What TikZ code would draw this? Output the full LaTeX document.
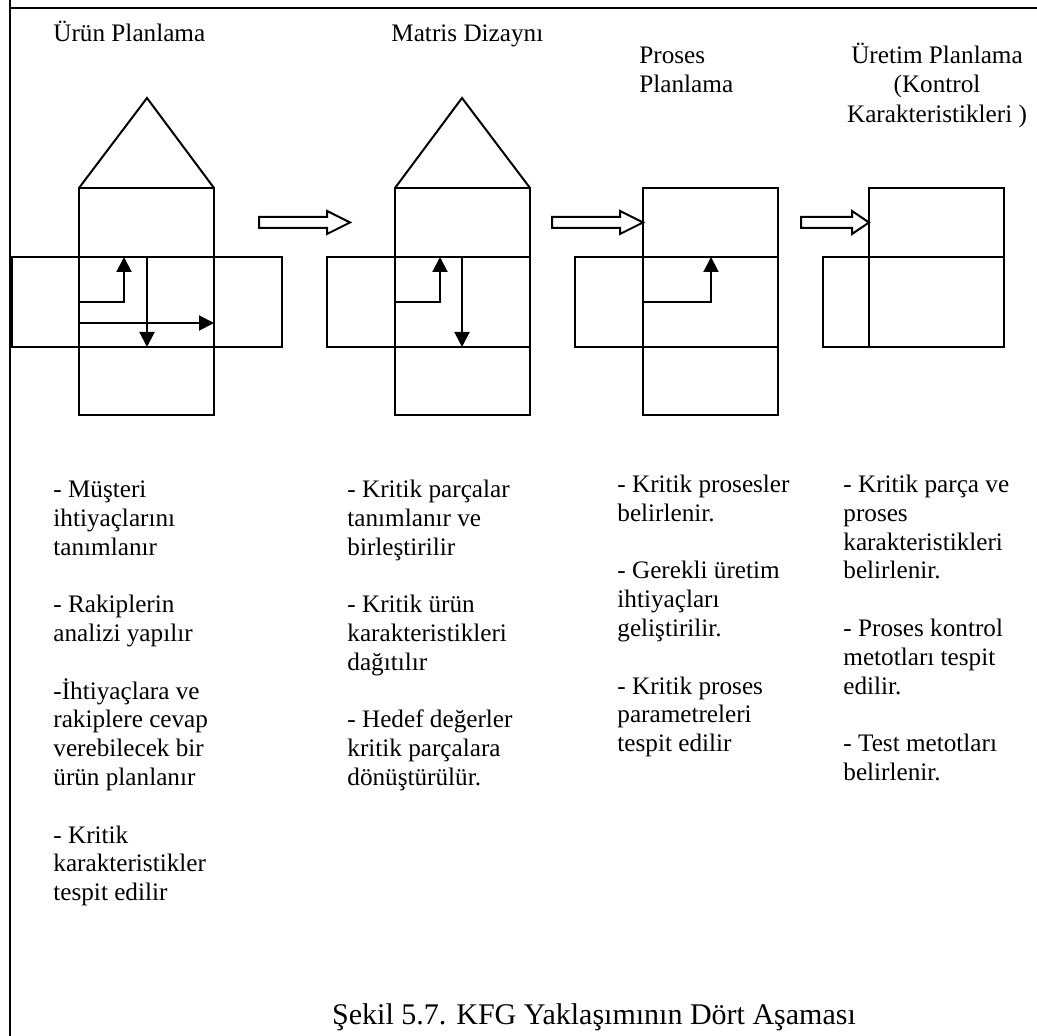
\documentclass[tikz,border=0pt]{standalone}
\usepackage{fontspec}
\setmainfont{Liberation Serif}
\usetikzlibrary{arrows.meta}
\newcommand\lnstrut{\rule{0pt}{12pt}}
\begin{document}
\begin{tikzpicture}[x=0.5pt,y=-0.5pt,
  frame/.style={line width=1pt},
  box/.style={draw,line width=1pt},
  flow/.style={line width=1pt,-{Triangle[length=7.5pt,width=7.5pt]}},
  hollow/.style={draw,line width=1pt,fill=white,line join=miter},
  heading/.style={font=\fontsize{12.6}{14.75}\selectfont,inner sep=0pt},
  body/.style={font=\fontsize{12.6}{14.4}\selectfont,inner sep=0pt,align=left,anchor=north west},
]
\useasboundingbox (0,0) rectangle (1037,1036);

% page frame
\draw[frame] (10,0) -- (10,1036);
\draw[frame] (10,8) -- (1037,8);

% headings
\node[heading,anchor=base west] (h1) at (53,42) {Ürün Planlama};
\node[heading,anchor=base west] (h2) at (391,42) {Matris Dizaynı};
\node[heading,anchor=north west,align=left] (h3) at (639,39) {\lnstrut Proses\\Planlama};
\node[heading,anchor=north,align=center] (h4) at (937,39) {\lnstrut Üretim Planlama\\(Kontrol\\Karakteristikleri )};

% stage 1: product planning house
\draw[box] (79,188) -- (147,98) -- (214,188);
\draw[box] (79,188) rectangle (214,415);
\draw[box] (12,257) rectangle (282,347);
\coordinate (a1s) at (79,302);  \coordinate (a1e) at (124,257);
\coordinate (b1s) at (147,257); \coordinate (b1e) at (147,347);
\coordinate (c1s) at (79,323);  \coordinate (c1e) at (214,323);
\draw[flow] (a1s) -| (a1e);
\draw[flow] (b1s) -- (b1e);
\draw[flow] (c1s) -- (c1e);

% stage 2: matrix design
\draw[box] (395,188) -- (462,98) -- (530,188);
\draw[box] (395,188) rectangle (530,415);
\draw[box] (327,257) rectangle (530,347);
\coordinate (a2s) at (395,302); \coordinate (a2e) at (440,257);
\coordinate (b2s) at (462,257); \coordinate (b2e) at (462,347);
\draw[flow] (a2s) -| (a2e);
\draw[flow] (b2s) -- (b2e);

% stage 3: process planning
\draw[box] (643,188) rectangle (778,415);
\draw[box] (575,257) rectangle (778,347);
\draw[box] (643,347) -- (778,347);
\coordinate (a3s) at (643,302); \coordinate (a3e) at (711,257);
\draw[flow] (a3s) -| (a3e);

% stage 4: production planning
\draw[box] (869,188) rectangle (1004,347);
\draw[box] (823,257) rectangle (1004,347);

% hollow block arrows between stages
\draw[hollow] (259,217) -- (327,217) -- (327,211) -- (350,222.5) -- (327,234) -- (327,228) -- (259,228) -- cycle;
\draw[hollow] (552,217) -- (620,217) -- (620,211) -- (643,222.5) -- (620,234) -- (620,228) -- (552,228) -- cycle;
\draw[hollow] (801,217) -- (852,217) -- (852,211) -- (869,222.5) -- (852,234) -- (852,228) -- (801,228) -- cycle;

% descriptions
\node[body] (t1) at (53,473) {\lnstrut - Müşteri\\ihtiyaçlarını\\tanımlanır\\[14.4pt]- Rakiplerin\\analizi yapılır\\[14.4pt]-İhtiyaçlara ve\\rakiplere cevap\\verebilecek bir\\ürün planlanır\\[14.4pt]- Kritik\\karakteristikler\\tespit edilir};
\node[body] (t2) at (347,473) {\lnstrut - Kritik parçalar\\tanımlanır ve\\birleştirilir\\[14.4pt]- Kritik ürün\\karakteristikleri\\dağıtılır\\[14.4pt]- Hedef değerler\\kritik parçalara\\dönüştürülür.};
\node[body] (t3) at (617,468) {\lnstrut - Kritik prosesler\\belirlenir.\\[14.4pt]- Gerekli üretim\\ihtiyaçları\\geliştirilir.\\[14.4pt]- Kritik proses\\parametreleri\\tespit edilir};
\node[body] (t4) at (843,468) {\lnstrut - Kritik parça ve\\proses\\karakteristikleri\\belirlenir.\\[14.4pt]- Proses kontrol\\metotları tespit\\edilir.\\[14.4pt]- Test metotları\\belirlenir.};

% caption
\node[font=\fontsize{15}{18}\selectfont,inner sep=0pt,anchor=base] (cap) at (594,1024) {Şekil 5.7. KFG Yaklaşımının Dört Aşaması};
\end{tikzpicture}
\end{document}
